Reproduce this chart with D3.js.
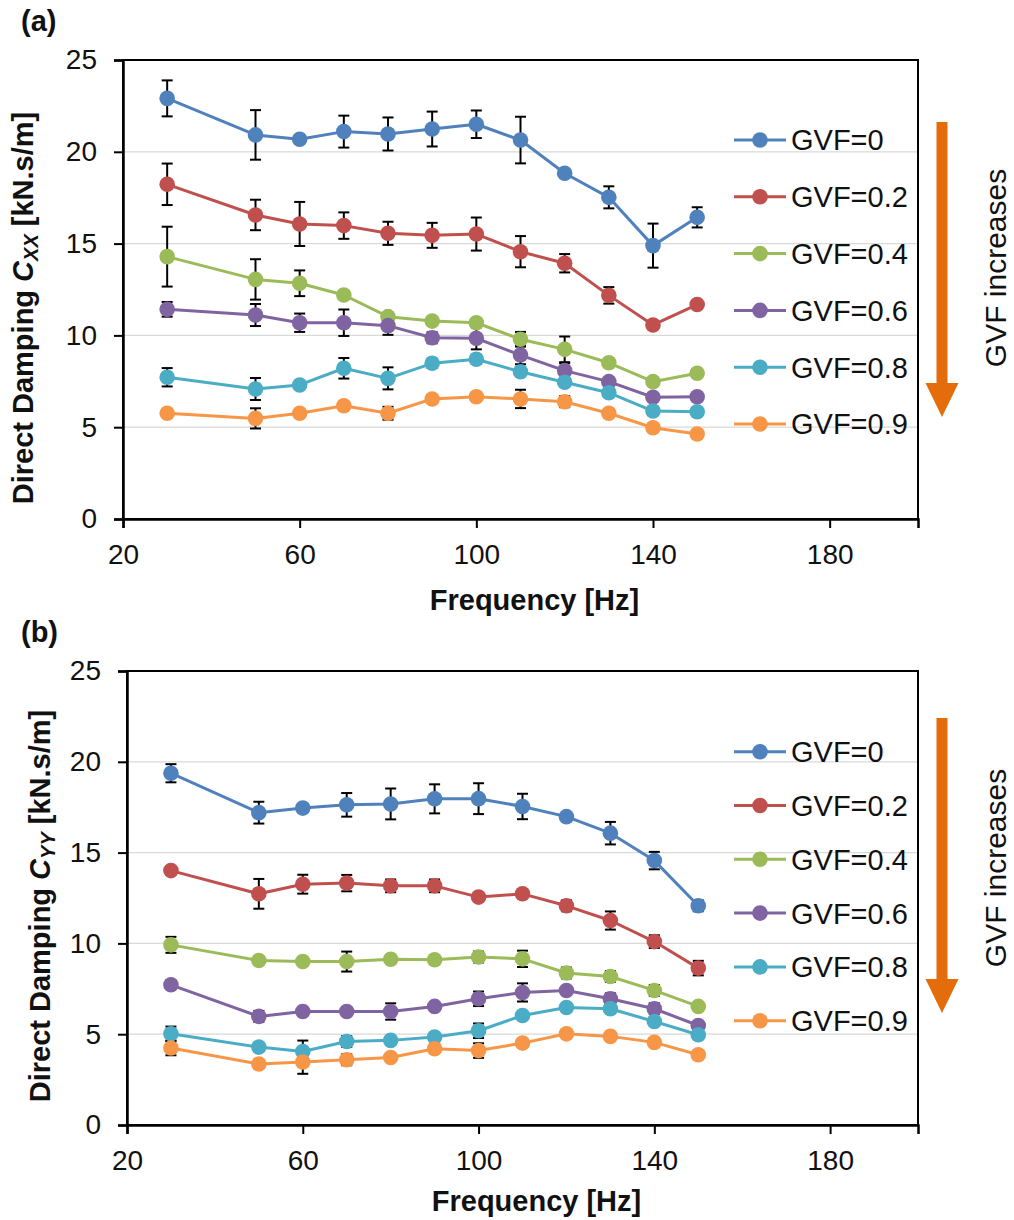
<!DOCTYPE html>
<html>
<head>
<meta charset="utf-8">
<script src="https://cdn.jsdelivr.net/npm/d3@7"></script>
<style>
  body { margin: 0; background: #fff; }
  svg { display: block; font-family: "Liberation Sans", Arial, sans-serif; }
</style>
</head>
<body>
<svg id="chart" width="1014" height="1220"></svg>
<script>
/* DATA */
const freq = [30, 50, 60, 70, 80, 90, 100, 110, 120, 130, 140, 150];
const gvfLabels = ["GVF=0", "GVF=0.2", "GVF=0.4", "GVF=0.6", "GVF=0.8", "GVF=0.9"];
const colors = ["#4F81BD", "#C0504D", "#9BBB59", "#8064A2", "#4BACC6", "#F79646"];
const yTicks = [0, 5, 10, 15, 20, 25];
const xTicks = [20, 60, 100, 140, 180];

// (a) direct damping Cxx, kN.s/m
const cxx0  = [22.91, 20.92, 20.68, 21.10, 20.97, 21.24, 21.50, 20.64, 18.83, 17.52, 14.89, 16.43];
const cxx02 = [18.23, 16.56, 16.07, 15.98, 15.56, 15.45, 15.52, 14.56, 13.93, 12.18, 10.57, 11.68];
const cxx04 = [14.29, 13.05, 12.84, 12.20, 11.02, 10.78, 10.69, 9.79, 9.24, 8.51, 7.48, 7.94];
const cxx06 = [11.42, 11.11, 10.69, 10.69, 10.53, 9.87, 9.84, 8.93, 8.08, 7.48, 6.63, 6.66];
const cxx08 = [7.72, 7.08, 7.30, 8.21, 7.66, 8.48, 8.70, 8.02, 7.45, 6.88, 5.88, 5.84];
const cxx09 = [5.76, 5.48, 5.76, 6.17, 5.76, 6.54, 6.66, 6.54, 6.39, 5.76, 4.97, 4.63];
// error bar half-lengths
const cxxErr0  = [0.98, 1.35, 0.2, 0.87, 0.9, 0.95, 0.75, 1.27, 0.2, 0.6, 1.2, 0.55];
const cxxErr02 = [1.13, 0.83, 1.2, 0.72, 0.63, 0.68, 0.9, 0.85, 0.5, 0.45, 0.2, 0.2];
const cxxErr04 = [1.63, 1.1, 0.7, 0.2, 0.2, 0.2, 0.2, 0.4, 0.7, 0.2, 0.2, 0.2];
const cxxErr06 = [0.4, 0.6, 0.5, 0.72, 0.5, 0.3, 0.6, 0.5, 0.4, 0.2, 0.2, 0.2];
const cxxErr08 = [0.5, 0.6, 0.2, 0.56, 0.6, 0.25, 0.25, 0.2, 0.2, 0.2, 0.2, 0.2];
const cxxErr09 = [0.2, 0.55, 0.2, 0.2, 0.35, 0.2, 0.2, 0.5, 0.3, 0.2, 0.2, 0.2];

// (b) direct damping Cyy, kN.s/m
const cyy0  = [19.37, 17.20, 17.45, 17.63, 17.68, 17.96, 17.97, 17.54, 16.98, 16.07, 14.56, 12.07];
const cyy02 = [14.01, 12.73, 13.26, 13.32, 13.17, 13.17, 12.55, 12.73, 12.07, 11.26, 10.10, 8.64];
const cyy04 = [9.92, 9.06, 9.00, 9.00, 9.13, 9.10, 9.25, 9.15, 8.37, 8.18, 7.41, 6.53];
const cyy06 = [7.72, 5.98, 6.25, 6.25, 6.25, 6.53, 6.95, 7.30, 7.41, 6.95, 6.40, 5.48];
const cyy08 = [5.02, 4.29, 4.05, 4.60, 4.66, 4.84, 5.19, 6.03, 6.47, 6.40, 5.70, 4.97];
const cyy09 = [4.24, 3.36, 3.47, 3.59, 3.72, 4.20, 4.10, 4.51, 5.02, 4.88, 4.55, 3.87];
const cyyErr0  = [0.5, 0.6, 0.2, 0.65, 0.85, 0.8, 0.85, 0.7, 0.2, 0.62, 0.48, 0.3];
const cyyErr02 = [0.2, 0.82, 0.52, 0.45, 0.35, 0.35, 0.2, 0.2, 0.3, 0.5, 0.35, 0.4];
const cyyErr04 = [0.44, 0.2, 0.2, 0.55, 0.2, 0.2, 0.3, 0.45, 0.3, 0.3, 0.3, 0.2];
const cyyErr06 = [0.2, 0.3, 0.2, 0.2, 0.45, 0.2, 0.4, 0.5, 0.2, 0.3, 0.3, 0.2];
const cyyErr08 = [0.4, 0.2, 0.6, 0.3, 0.2, 0.2, 0.4, 0.2, 0.2, 0.2, 0.2, 0.2];
const cyyErr09 = [0.4, 0.2, 0.65, 0.3, 0.2, 0.2, 0.4, 0.2, 0.2, 0.2, 0.2, 0.2];

/* PANEL LAYOUT */
const panels = [
  {
    tag: "(a)", sub: "XX", tagY: 31,
    left: 123, right: 918, top: 60, bottom: 519,
    values: [cxx0, cxx02, cxx04, cxx06, cxx08, cxx09],
    errors: [cxxErr0, cxxErr02, cxxErr04, cxxErr06, cxxErr08, cxxErr09],
    titleX: 33, titleY: 308, xTitleY: 610,
    legendY: 140, legendStep: 56.8,
    arrowTop: 122, arrowHead: 383, arrowTip: 417, noteY: 268
  },
  {
    tag: "(b)", sub: "YY", tagY: 642,
    left: 127, right: 918, top: 671, bottom: 1125,
    values: [cyy0, cyy02, cyy04, cyy06, cyy08, cyy09],
    errors: [cyyErr0, cyyErr02, cyyErr04, cyyErr06, cyyErr08, cyyErr09],
    titleX: 50, titleY: 906, xTitleY: 1211,
    legendY: 751.7, legendStep: 53.8,
    arrowTop: 718, arrowHead: 979, arrowTip: 1013, noteY: 868
  }
];

const svg = d3.select("#chart");

panels.forEach(drawPanel);

function drawPanel(p) {
  const g = svg.append("g");

  const xScale = d3.scaleLinear().domain([20, 200]).range([p.left, p.right]);
  const yScale = d3.scaleLinear().domain([0, 25]).range([p.bottom, p.top]);

  // gridlines
  g.append("g")
    .selectAll("line")
    .data(yTicks.filter(d => d > 0 && d < 25))
    .join("line")
    .attr("x1", p.left).attr("x2", p.right)
    .attr("y1", d => yScale(d)).attr("y2", d => yScale(d))
    .attr("stroke", "#D9D9D9")
    .attr("stroke-width", 1.2);

  // plot border (top / right)
  g.append("rect")
    .attr("x", p.left).attr("y", p.top)
    .attr("width", p.right - p.left).attr("height", p.bottom - p.top)
    .attr("fill", "none")
    .attr("stroke", "#000")
    .attr("stroke-width", 2);

  // axes
  const xAxis = d3.axisBottom(xScale).tickValues(xTicks).tickSize(9).tickPadding(16);
  const yAxis = d3.axisLeft(yScale).tickValues(yTicks).tickSize(9).tickPadding(17);

  const xAxisGroup = g.append("g")
    .attr("transform", `translate(0,${p.bottom})`)
    .call(xAxis);
  const yAxisGroup = g.append("g")
    .attr("transform", `translate(${p.left},0)`)
    .call(yAxis);

  [xAxisGroup, yAxisGroup].forEach(ax => {
    ax.select(".domain").attr("stroke", "#000").attr("stroke-width", 2.5);
    ax.selectAll(".tick line").attr("stroke", "#000").attr("stroke-width", 2);
    ax.selectAll(".tick text")
      .attr("fill", "#111")
      .style("font-size", "28px")
      .style("font-family", "'Liberation Sans', Arial, sans-serif");
  });

  // error bars
  const capW = 5.5;
  p.values.forEach((vals, s) => {
    const bars = g.append("g")
      .attr("stroke", "#000")
      .attr("stroke-width", 2)
      .selectAll("g")
      .data(vals.map((v, i) => ({ x: freq[i], v: v, e: p.errors[s][i] })))
      .join("g");
    bars.append("line")
      .attr("x1", d => xScale(d.x)).attr("x2", d => xScale(d.x))
      .attr("y1", d => yScale(d.v + d.e)).attr("y2", d => yScale(d.v - d.e));
    bars.append("line")
      .attr("x1", d => xScale(d.x) - capW).attr("x2", d => xScale(d.x) + capW)
      .attr("y1", d => yScale(d.v + d.e)).attr("y2", d => yScale(d.v + d.e));
    bars.append("line")
      .attr("x1", d => xScale(d.x) - capW).attr("x2", d => xScale(d.x) + capW)
      .attr("y1", d => yScale(d.v - d.e)).attr("y2", d => yScale(d.v - d.e));
  });

  // lines + markers
  const lineFunction = d3.line()
    .x((d, i) => xScale(freq[i]))
    .y(d => yScale(d));

  p.values.forEach((vals, s) => {
    g.append("path")
      .datum(vals)
      .attr("d", lineFunction)
      .attr("fill", "none")
      .attr("stroke", colors[s])
      .attr("stroke-width", 3)
      .attr("stroke-linejoin", "round");

    g.append("g")
      .selectAll("circle")
      .data(vals)
      .join("circle")
      .attr("cx", (d, i) => xScale(freq[i]))
      .attr("cy", d => yScale(d))
      .attr("r", 7.8)
      .attr("fill", colors[s]);
  });

  // legend
  const legend = g.append("g")
    .selectAll("g")
    .data(gvfLabels)
    .join("g")
    .attr("transform", (d, i) => `translate(0,${p.legendY + i * p.legendStep})`);
  legend.append("line")
    .attr("x1", 734).attr("x2", 786)
    .attr("stroke", (d, i) => colors[i])
    .attr("stroke-width", 3);
  legend.append("circle")
    .attr("cx", 760).attr("r", 7.8)
    .attr("fill", (d, i) => colors[i]);
  legend.append("text")
    .attr("x", 791)
    .attr("dy", "0.36em")
    .attr("font-size", 29)
    .attr("fill", "#111")
    .text(d => d);

  // orange arrow
  const ax = 942, shaftHalf = 5.5, headHalf = 16.5;
  g.append("path")
    .attr("d", `M${ax - shaftHalf},${p.arrowTop} L${ax + shaftHalf},${p.arrowTop} L${ax + shaftHalf},${p.arrowHead}` +
               ` L${ax + headHalf},${p.arrowHead} L${ax},${p.arrowTip} L${ax - headHalf},${p.arrowHead}` +
               ` L${ax - shaftHalf},${p.arrowHead} Z`)
    .attr("fill", "#E46C0A");

  g.append("text")
    .attr("transform", `translate(1006,${p.noteY}) rotate(-90)`)
    .attr("text-anchor", "middle")
    .attr("font-size", 30)
    .attr("fill", "#111")
    .text("GVF increases");

  // panel tag
  g.append("text")
    .attr("x", 21).attr("y", p.tagY)
    .attr("font-size", 29)
    .attr("font-weight", "bold")
    .attr("fill", "#111")
    .text(p.tag);

  // axis titles
  g.append("text")
    .attr("x", (p.left + p.right) / 2 + 14)
    .attr("y", p.xTitleY)
    .attr("text-anchor", "middle")
    .attr("font-size", 29)
    .attr("font-weight", "bold")
    .attr("fill", "#111")
    .text("Frequency [Hz]");

  const yTitle = g.append("text")
    .attr("transform", `translate(${p.titleX},${p.titleY}) rotate(-90)`)
    .attr("text-anchor", "middle")
    .attr("font-size", 29)
    .attr("font-weight", "bold")
    .attr("fill", "#111");
  yTitle.append("tspan").text("Direct Damping ");
  yTitle.append("tspan").attr("font-style", "italic").text("C");
  yTitle.append("tspan").attr("font-style", "italic").attr("font-size", 20).attr("dy", 5).text(p.sub);
  yTitle.append("tspan").attr("dy", -5).text(" [kN.s/m]");
}
</script>
</body>
</html>
